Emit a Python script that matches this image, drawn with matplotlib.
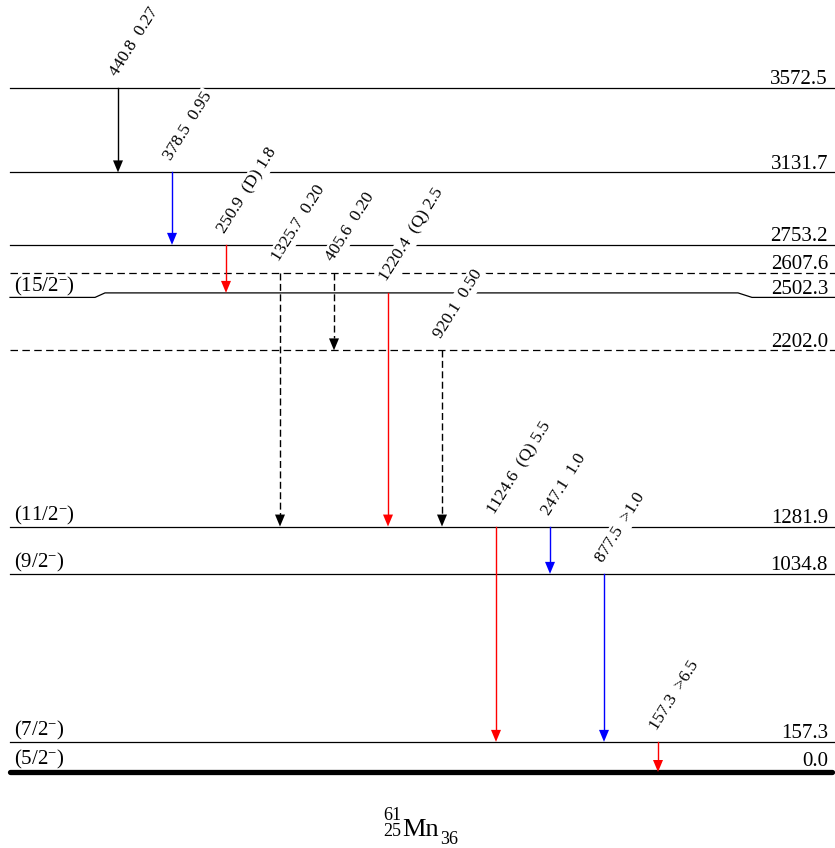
import matplotlib
matplotlib.use('Agg')
import matplotlib.pyplot as plt

plt.rcParams['font.family'] = ['Liberation Serif', 'DejaVu Serif']
plt.rcParams['mathtext.fontset'] = 'custom'
plt.rcParams['mathtext.rm'] = 'Liberation Serif'
plt.rcParams['mathtext.it'] = 'Liberation Serif:italic'

# levels (keV), spins, tentative (dashed) flag
level_energy = [0.0, 157.3, 1034.8, 1281.9, 2202.0, 2502.3, 2607.6, 2753.2, 3131.7, 3572.5]
level_spin = ['(5/2$^{-}$)', '(7/2$^{-}$)', '(9/2$^{-}$)', '(11/2$^{-}$)', '',
              '(15/2$^{-}$)', '', '', '', '']
level_tentative = [False, False, False, False, True, False, True, False, False, False]

# gamma transitions, left to right
gamma_label = ['440.8  0.27', '378.5  0.95', '250.9  (D) 1.8', '1325.7  0.20',
               '405.6  0.20', '1220.4  (Q) 2.5', '920.1  0.50', '1124.6  (Q) 5.5',
               '247.1  1.0', '877.5  >1.0', '157.3  >6.5']
gamma_from = [3572.5, 3131.7, 2753.2, 2607.6, 2607.6, 2502.3, 2202.0, 1281.9, 1281.9, 1034.8, 157.3]
gamma_to = [3131.7, 2753.2, 2502.3, 1281.9, 2202.0, 1281.9, 1281.9, 157.3, 1034.8, 157.3, 0.0]
gamma_color = ['black', 'blue', 'red', 'black', 'black', 'red', 'black', 'red', 'blue', 'blue', 'red']
gamma_tentative = [False, False, False, True, True, False, True, False, False, False, False]

# layout: x in pixels, y in keV
W, H = 835, 848
Y_GROUND = 772
K = 684 / 3572.5  # pixels per keV


def px(d):
    return d / K


def ypos(y_pixel):
    return (Y_GROUND - y_pixel) / K


fig = plt.figure(figsize=(W / 100, H / 100), dpi=100)
ax = fig.add_axes([0, 0, 1, 1])
ax.set_xlim(0, W)
ax.set_ylim(ypos(H), ypos(0))
ax.axis('off')

KINK_LEVEL = 2502.3
dash = (0, (6, 3.5))

for E, spin, tent in zip(level_energy, level_spin, level_tentative):
    ls = dash if tent else '-'
    e_end = E
    if E == 0.0:
        ax.plot([10, 832], [E, E], color='black', lw=3.8, solid_capstyle='round', zorder=2)
        e_end = E + px(2)
    elif E == KINK_LEVEL:
        d = px(4.5)
        ax.plot([10, 95, 105, 738, 752, 835], [E - d, E - d, E, E, E - d, E - d],
                color='black', lw=0.9, zorder=2)
        e_end = E - d
    else:
        ax.plot([10, 835], [E, E], color='black', lw=0.9, ls=ls, zorder=2)
    ax.text(828, e_end + px(3.5), '%.1f' % E, ha='right', va='baseline', fontsize=15, zorder=4)
    if spin:
        ax.text(14, e_end + px(6), spin, ha='left', va='baseline', fontsize=15, zorder=4)

X0, DX = 118, 54
HEAD_W, HEAD_L = 10, px(12)
for i, (lab, e1, e2, c, tent) in enumerate(zip(gamma_label, gamma_from, gamma_to,
                                               gamma_color, gamma_tentative)):
    x = X0 + DX * i
    ls = (0, (5, 2.5)) if tent else '-'
    ax.plot([x, x], [e1, e2 + HEAD_L], color=c, lw=1.0, ls=ls, zorder=2)
    ax.fill([x - HEAD_W / 2, x + HEAD_W / 2, x], [e2 + HEAD_L, e2 + HEAD_L, e2],
            color=c, lw=0, zorder=2)
    ax.text(x - 1, e1 + px(11), lab, rotation=58, rotation_mode='anchor',
            ha='left', va='baseline', fontsize=12.5, zorder=3,
            bbox=dict(fc='white', ec='none', pad=1.2))

# nucleus name, built from pieces
ax.text(402, ypos(836), 'Mn', ha='left', va='baseline', fontsize=19)
ax.text(401, ypos(820), '61', ha='right', va='baseline', fontsize=13)
ax.text(401, ypos(836), '25', ha='right', va='baseline', fontsize=13)
ax.text(440, ypos(844), '36', ha='left', va='baseline', fontsize=13)

fig.savefig('out.png', dpi=100)
